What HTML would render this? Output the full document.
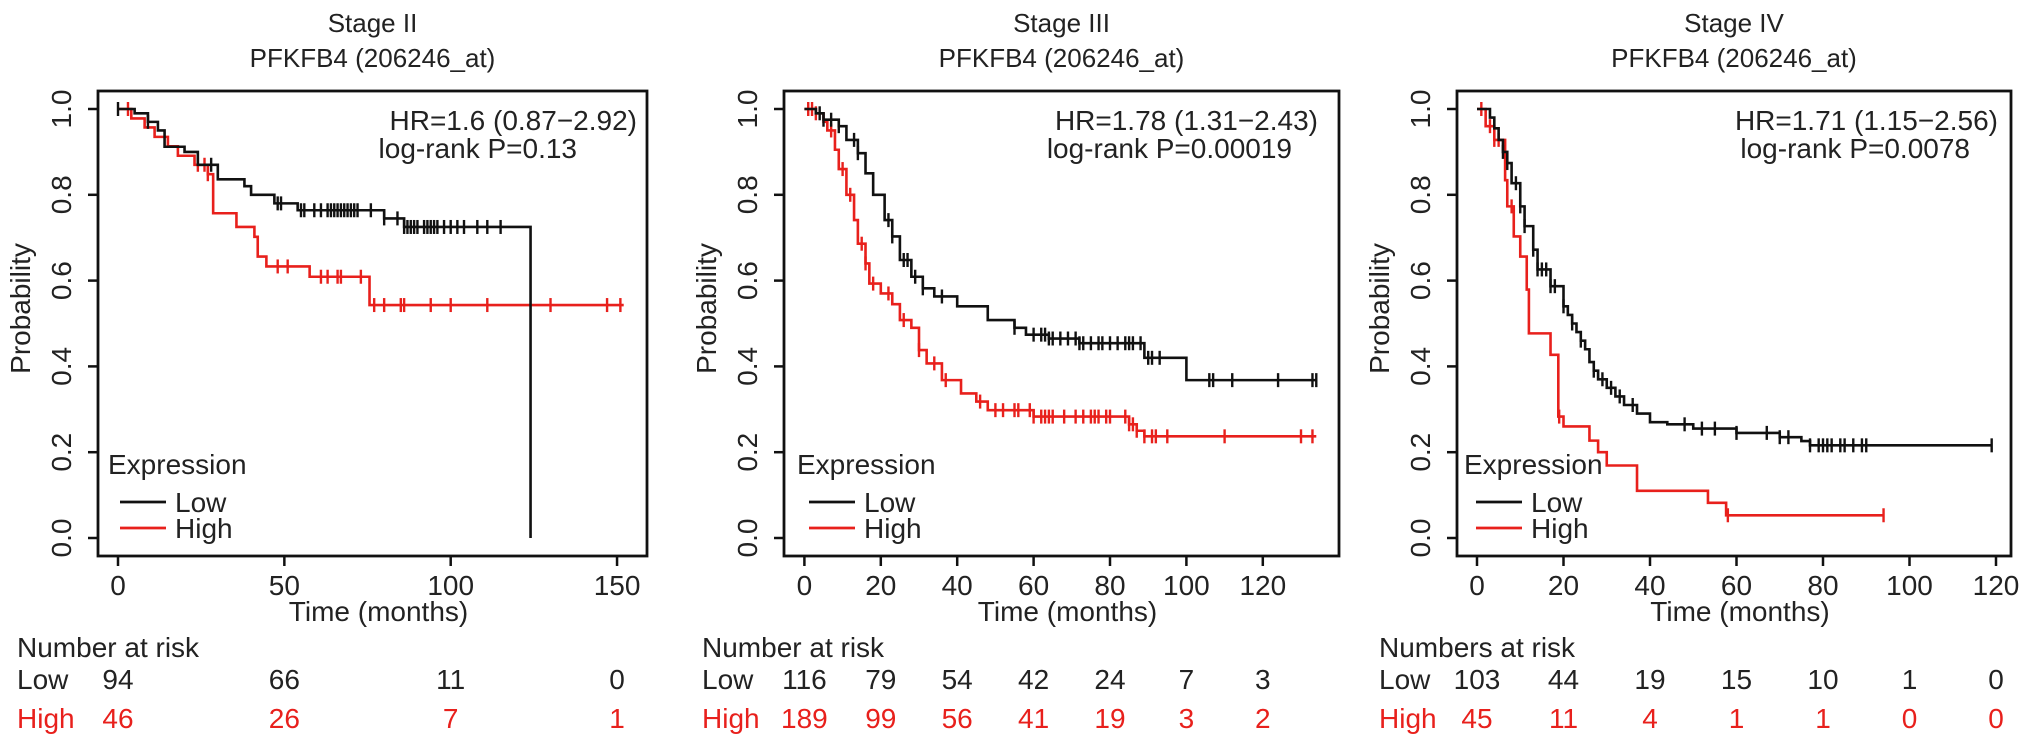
<!DOCTYPE html>
<html><head><meta charset="utf-8"><style>
html,body{margin:0;padding:0;background:#fff;}
svg{display:block;font-family:"Liberation Sans",Arial,sans-serif;}
</style></head><body>
<svg id="chart" width="2032" height="749" viewBox="0 0 2032 749" xmlns="http://www.w3.org/2000/svg"></svg>
<script>
// ---------- Panel data ----------
const p1LowT = [0,5,9,12,14,20,24,30,38,40,47,54,80,86,124];
const p1LowS = [1,0.99,0.97,0.95,0.912,0.90,0.87,0.836,0.82,0.80,0.78,0.764,0.745,0.725,0];
const p1LowC = [0,9,28,48,49,55,56,59,61,63,64,65,66,67,68,69,70,71,72,76,80,84,86,87,88,89,90,92,93,94,95,96,98,100,102,104,108,111,115];
const p1HighT = [0,4,8,11,15,18,23,27,28.6,35.6,41,42,44.6,57.6,75.6];
const p1HighS = [1,0.978,0.957,0.935,0.913,0.891,0.87,0.848,0.757,0.725,0.702,0.656,0.633,0.609,0.543];
const p1HighC = [3,24,26,27,48,51,61,63,66,67,73,77,80,85,86,94,100,111,130,147,151];
const p1End = [124,152];
const p1XTicks = [0,50,100,150];
const p1RiskLow = [94,66,11,0];
const p1RiskHigh = [46,26,7,1];

const p2LowT = [0,3,5,9,11,14,16,18,21,23,25,28,31,34,40,48,55,58,64,72,89,100];
const p2LowS = [1,0.99,0.975,0.96,0.928,0.897,0.85,0.80,0.741,0.703,0.648,0.609,0.582,0.563,0.54,0.508,0.49,0.474,0.465,0.454,0.42,0.368];
const p2LowC = [4,5,7,9,13,14,22,23,26,27,29,31,36,55,60,62,63,64,65,67,69,71,72,73,75,77,78,80,82,84,85,86,88,90,91,93,106,107,112,124,133,134];
const p2HighT = [0,3,5,6,8,9,11,13,14,16,17,20,23,25,28,30,32,36,41,45,48,60,85,87,89];
const p2HighS = [1,0.99,0.97,0.95,0.905,0.86,0.80,0.741,0.686,0.64,0.593,0.57,0.545,0.508,0.49,0.438,0.407,0.368,0.337,0.318,0.298,0.283,0.265,0.25,0.237];
const p2HighC = [1,2,3,7,10,12,15,16,18,22,26,30,34,37,46,50,52,55,56,59,60,62,63,64,65,68,71,73,75,76,77,79,80,84,85,86,87,89,91,92,95,110,130,133];
const p2End = [134,134];
const p2XTicks = [0,20,40,60,80,100,120];
const p2RiskLow = [116,79,54,42,24,7,3];
const p2RiskHigh = [189,99,56,41,19,3,2];

const p3LowT = [0,3,4,5,6,7,8,10,11,13,14,17,20,21,22,23,24,25,26,27,28,30,32,34,37,40,44,50,60,70,75,77];
const p3LowS = [1,0.98,0.955,0.928,0.90,0.874,0.827,0.773,0.727,0.672,0.626,0.587,0.54,0.52,0.50,0.48,0.46,0.44,0.41,0.39,0.37,0.35,0.33,0.31,0.29,0.27,0.265,0.255,0.245,0.235,0.226,0.216];
const p3LowC = [6,7,9,10,11,13,14,15,16,17,18,20,22,24,27,29,31,33,36,48,52,55,60,67,70,72,77,79,80,81,82,84,85,87,89,90,119];
const p3HighT = [0,2,4,6.5,7,8.5,10,11.5,12,17,18.8,20,26,28,30,37,53.4,57.6];
const p3HighS = [1,0.96,0.928,0.834,0.773,0.703,0.656,0.579,0.477,0.427,0.283,0.26,0.227,0.20,0.169,0.11,0.082,0.053];
const p3HighC = [1,3,4,5,8,19,58,94];
const p3End = [119,94];
const p3XTicks = [0,20,40,60,80,100,120];
const p3RiskLow = [103,44,19,15,10,1,0];
const p3RiskHigh = [45,11,4,1,1,0,0];

const yTicks = [0,0.2,0.4,0.6,0.8,1.0];

const panels = [
 {key:'stage-ii',title:'Stage II',left:98,right:647,x0:118,pxPerM:3.327,
  lowT:p1LowT,lowS:p1LowS,lowC:p1LowC,highT:p1HighT,highS:p1HighS,highC:p1HighC,end:p1End,
  ticks:p1XTicks,riskLow:p1RiskLow,riskHigh:p1RiskHigh,
  hr:'HR=1.6 (0.87\u22122.92)',hrEnd:637,lr:'log-rank P=0.13',lrEnd:577,riskTitle:'Number at risk',riskX:17,legX:108},
 {key:'stage-iii',title:'Stage III',left:784,right:1339,x0:804.4,pxPerM:3.82,
  lowT:p2LowT,lowS:p2LowS,lowC:p2LowC,highT:p2HighT,highS:p2HighS,highC:p2HighC,end:p2End,
  ticks:p2XTicks,riskLow:p2RiskLow,riskHigh:p2RiskHigh,
  hr:'HR=1.78 (1.31\u22122.43)',hrEnd:1318,lr:'log-rank P=0.00019',lrEnd:1292,riskTitle:'Number at risk',riskX:702,legX:797},
 {key:'stage-iv',title:'Stage IV',left:1457,right:2011,x0:1477,pxPerM:4.325,
  lowT:p3LowT,lowS:p3LowS,lowC:p3LowC,highT:p3HighT,highS:p3HighS,highC:p3HighC,end:p3End,
  ticks:p3XTicks,riskLow:p3RiskLow,riskHigh:p3RiskHigh,
  hr:'HR=1.71 (1.15\u22122.56)',hrEnd:1998,lr:'log-rank P=0.0078',lrEnd:1970,riskTitle:'Numbers at risk',riskX:1379,legX:1464}
];

const NS='http://www.w3.org/2000/svg';
const svg=document.getElementById('chart');
const TOP=91, BOT=556, Y0=538, Y1=109;
const RED='#e8201c';
const FS=28;
function yS(v){return Y0-(Y0-Y1)*v;}
function mk(tag,attrs,parent){const e=document.createElementNS(NS,tag);for(const k in attrs)e.setAttribute(k,attrs[k]);(parent||svg).appendChild(e);return e;}
function txt(s,attrs,parent){const e=mk('text',attrs,parent);e.textContent=s;return e;}

panels.forEach(p=>{
  const g=mk('g',{});
  
  
  const xS=m=>p.x0+p.pxPerM*m;
  const cx=(p.left+p.right)/2;
  let t=txt(p.title,{x:cx,y:32,'font-size':26,'text-anchor':'middle',fill:'#222'},g);
  
  
  t=txt('PFKFB4 (206246_at)',{x:cx,y:67,'font-size':26,'text-anchor':'middle',fill:'#222'},g);
  
  
  const box=mk('rect',{x:p.left,y:TOP,width:p.right-p.left,height:BOT-TOP,fill:'none',stroke:'#111','stroke-width':2.8},g);
  
  
  yTicks.forEach(v=>{
    mk('line',{x1:p.left-10,x2:p.left,y1:yS(v),y2:yS(v),stroke:'#111','stroke-width':2.5},g);
    const lx=p.left-27;
    const l=txt(v.toFixed(1),{x:lx,y:yS(v),'font-size':FS,'text-anchor':'middle',fill:'#222',transform:`rotate(-90 ${lx} ${yS(v)})`},g);
    
    
  });
  const yl=p.left-68, ym=(TOP+BOT)/2-15;
  t=txt('Probability',{x:yl,y:ym,'font-size':FS,'text-anchor':'middle',fill:'#222',transform:`rotate(-90 ${yl} ${ym})`},g);
  
  
  p.ticks.forEach((m,i)=>{
    mk('line',{x1:xS(m),x2:xS(m),y1:BOT,y2:BOT+10,stroke:'#111','stroke-width':2.5},g);
    const l=txt(String(m),{x:xS(m),y:595,'font-size':FS,'text-anchor':'middle',fill:'#222'},g);
    
    
    const a=txt(String(p.riskLow[i]),{x:xS(m),y:689,'font-size':FS,'text-anchor':'middle',fill:'#222'},g);
    
    
    const b=txt(String(p.riskHigh[i]),{x:xS(m),y:728,'font-size':FS,'text-anchor':'middle',fill:RED},g);
    
    
  });
  t=txt('Time (months)',{x:cx+6,y:621,'font-size':FS,'text-anchor':'middle',fill:'#222'},g);
  
  
  t=txt(p.riskTitle,{x:p.riskX,y:657,'font-size':FS,fill:'#222'},g);
  
  
  t=txt('Low',{x:p.riskX,y:689,'font-size':FS,fill:'#222'},g);
  
  
  t=txt('High',{x:p.riskX,y:728,'font-size':FS,fill:RED},g);
  
  
  t=txt(p.hr,{x:p.hrEnd,y:130,'font-size':FS,'text-anchor':'end',fill:'#222'},g);
  
  
  t=txt(p.lr,{x:p.lrEnd,y:158,'font-size':FS,'text-anchor':'end',fill:'#222'},g);
  
  
  function curve(T,S,C,endM,color,name){
    let d=`M${xS(T[0])},${yS(S[0])}`;
    for(let i=1;i<T.length;i++){d+=` H${xS(T[i])} V${yS(S[i])}`;}
    d+=` H${xS(endM)}`;
    const path=mk('path',{d:d,fill:'none',stroke:color,'stroke-width':2.6},g);
    
    
    C.forEach(c=>{
      let s=S[0];
      for(let i=0;i<T.length;i++){if(T[i]<=c)s=S[i];}
      const mkr=mk('line',{x1:xS(c),x2:xS(c),y1:yS(s)-7,y2:yS(s)+7,stroke:color,'stroke-width':2.4},g);
      
      
    });
  }
  curve(p.highT,p.highS,p.highC,p.end[1],RED,'high-expression');
  curve(p.lowT,p.lowS,p.lowC,p.end[0],'#111','low-expression');
  const lg=mk('g',{},g);
  
  
  txt('Expression',{x:p.legX,y:474,'font-size':FS,fill:'#222'},lg);
  mk('line',{x1:p.legX+12,x2:p.legX+58,y1:502,y2:502,stroke:'#111','stroke-width':2.8},lg);
  mk('line',{x1:p.legX+12,x2:p.legX+58,y1:528,y2:528,stroke:RED,'stroke-width':2.8},lg);
  const le1=txt('Low',{x:p.legX+67,y:512,'font-size':FS,fill:'#222'},lg);
  
  
  const le2=txt('High',{x:p.legX+67,y:538,'font-size':FS,fill:'#222'},lg);
  
  
});
</script>
</body></html>
